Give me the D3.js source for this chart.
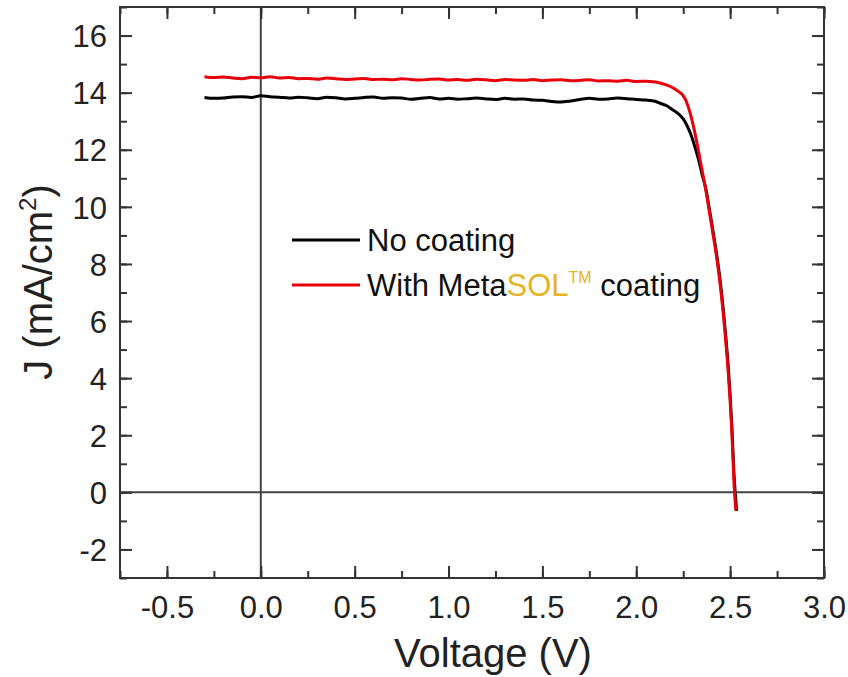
<!DOCTYPE html>
<html>
<head>
<meta charset="utf-8">
<script src="https://cdn.jsdelivr.net/npm/d3@7.9.0/dist/d3.min.js"></script>
<style>
  body { margin: 0; background: #fff; }
  svg { display: block; font-family: Arial, "Liberation Sans", sans-serif; }
</style>
</head>
<body>
<svg id="chart" width="848" height="677"></svg>
<script>
// voltage samples of the flat part (V)
const flatV = [-0.30, -0.25, -0.20, -0.15, -0.10, -0.05, 0.00, 0.05, 0.10, 0.15,
  0.20, 0.25, 0.30, 0.35, 0.40, 0.45, 0.50, 0.55, 0.60, 0.65,
  0.70, 0.75, 0.80, 0.85, 0.90, 0.95, 1.00, 1.05, 1.10, 1.15,
  1.20, 1.25, 1.30, 1.35, 1.40, 1.45, 1.50, 1.55, 1.60, 1.65,
  1.70, 1.75, 1.80, 1.85, 1.90, 1.95, 2.00, 2.05, 2.10];

// No coating (mA/cm2)
const blackFlatJ = [13.83, 13.80, 13.81, 13.85, 13.86, 13.83, 13.89, 13.86, 13.84, 13.81,
  13.84, 13.82, 13.79, 13.84, 13.82, 13.78, 13.80, 13.83, 13.85, 13.80,
  13.82, 13.81, 13.77, 13.80, 13.83, 13.78, 13.80, 13.77, 13.79, 13.81,
  13.78, 13.76, 13.80, 13.77, 13.78, 13.74, 13.73, 13.69, 13.67, 13.71,
  13.76, 13.80, 13.77, 13.78, 13.81, 13.79, 13.76, 13.74, 13.70];
const blackKneeV = [2.13, 2.16, 2.19, 2.22, 2.25, 2.27, 2.29, 2.31, 2.33, 2.35,
  2.37, 2.39, 2.41, 2.43, 2.45, 2.47, 2.49, 2.50, 2.51, 2.52, 2.535];
const blackKneeJ = [13.62, 13.55, 13.42, 13.28, 13.08, 12.85, 12.55, 12.15, 11.70, 11.15,
  10.65, 9.90, 9.10, 8.25, 7.25, 5.95, 4.40, 3.40, 2.20, 0.70, -0.65];

// With MetaSOL coating (mA/cm2)
const redFlatJ = [14.56, 14.53, 14.55, 14.51, 14.49, 14.54, 14.52, 14.56, 14.51, 14.53,
  14.49, 14.50, 14.47, 14.51, 14.49, 14.46, 14.48, 14.50, 14.46, 14.47,
  14.45, 14.49, 14.46, 14.44, 14.47, 14.48, 14.44, 14.46, 14.43, 14.47,
  14.45, 14.42, 14.46, 14.44, 14.43, 14.46, 14.42, 14.44, 14.45, 14.42,
  14.43, 14.45, 14.41, 14.42, 14.40, 14.43, 14.39, 14.40, 14.37];
const redKneeV = [2.13, 2.16, 2.19, 2.21, 2.235, 2.25, 2.26, 2.27, 2.28, 2.29, 2.31, 2.33, 2.35,
  2.37, 2.39, 2.41, 2.43, 2.45, 2.47, 2.49, 2.50, 2.51, 2.52, 2.53];
const redKneeJ = [14.33, 14.27, 14.19, 14.11, 13.99, 13.89, 13.78, 13.63, 13.44, 13.21, 12.66, 12.00, 11.30,
  10.60, 9.80, 9.00, 8.15, 7.10, 5.80, 4.20, 3.20, 2.00, 0.40, -0.63];

const xTicks = [-0.5, 0.0, 0.5, 1.0, 1.5, 2.0, 2.5, 3.0];
const yTicks = [-2, 0, 2, 4, 6, 8, 10, 12, 14, 16];

const svg = d3.select('#chart');
const pLeft = 120, pRight = 824, pTop = 7, pBottom = 578;

const x = d3.scaleLinear().domain([-0.75, 3.0]).range([pLeft, pRight]);
const y = d3.scaleLinear().domain([-3, 17]).range([pBottom, pTop]);

function series(v1, j1, v2, j2) {
  return v1.map((v, i) => [v, j1[i]]).concat(v2.map((v, i) => [v, j2[i]]));
}
const blackData = series(flatV, blackFlatJ, blackKneeV, blackKneeJ);
const redData = series(flatV, redFlatJ, redKneeV, redKneeJ);

// zero lines
svg.append('line')
  .attr('x1', x(0)).attr('x2', x(0)).attr('y1', pTop).attr('y2', pBottom)
  .attr('stroke', '#444').attr('stroke-width', 2);
svg.append('line')
  .attr('x1', pLeft).attr('x2', pRight).attr('y1', y(0)).attr('y2', y(0))
  .attr('stroke', '#444').attr('stroke-width', 2);

// axes, ticks inside on all sides
const minorX = d3.range(-0.75, 3.001, 0.25);
const minorY = d3.range(-3, 17.001, 1);
function styleAxis(g) {
  g.select('.domain').remove();
  g.selectAll('line').attr('stroke', '#333').attr('stroke-width', 2);
}
const fmtX = d => (d < 0 ? '-' : '') + Math.abs(d).toFixed(1);
const fmtY = d => d < 0 ? '-' + Math.abs(d) : String(d);

svg.append('g').attr('transform', `translate(0,${pBottom})`)
  .call(d3.axisBottom(x).tickValues(minorX).tickSize(-7).tickFormat(''))
  .call(styleAxis);
svg.append('g').attr('transform', `translate(0,${pBottom})`)
  .call(d3.axisBottom(x).tickValues(xTicks).tickSize(-12).tickFormat(fmtX))
  .call(styleAxis)
  .selectAll('text').attr('font-size', 31).attr('fill', '#222').attr('y', 18);
svg.append('g').attr('transform', `translate(0,${pTop})`)
  .call(d3.axisTop(x).tickValues(minorX).tickSize(-7).tickFormat(''))
  .call(styleAxis);
svg.append('g').attr('transform', `translate(0,${pTop})`)
  .call(d3.axisTop(x).tickValues(xTicks).tickSize(-12).tickFormat(''))
  .call(styleAxis);

svg.append('g').attr('transform', `translate(${pLeft},0)`)
  .call(d3.axisLeft(y).tickValues(minorY).tickSize(-7).tickFormat(''))
  .call(styleAxis);
svg.append('g').attr('transform', `translate(${pLeft},0)`)
  .call(d3.axisLeft(y).tickValues(yTicks).tickSize(-12).tickFormat(fmtY))
  .call(styleAxis)
  .selectAll('text').attr('font-size', 31).attr('fill', '#222').attr('x', -13).attr('dy', '0.36em');
svg.append('g').attr('transform', `translate(${pRight},0)`)
  .call(d3.axisRight(y).tickValues(minorY).tickSize(-7).tickFormat(''))
  .call(styleAxis);
svg.append('g').attr('transform', `translate(${pRight},0)`)
  .call(d3.axisRight(y).tickValues(yTicks).tickSize(-12).tickFormat(''))
  .call(styleAxis);

// frame
svg.append('rect')
  .attr('x', pLeft).attr('y', pTop).attr('width', pRight - pLeft).attr('height', pBottom - pTop)
  .attr('fill', 'none').attr('stroke', '#333').attr('stroke-width', 2);

// curves
const line = d3.line().x(d => x(d[0])).y(d => y(d[1])).curve(d3.curveMonotoneX);
svg.append('path').datum(blackData).attr('d', line)
  .attr('fill', 'none').attr('stroke', '#000').attr('stroke-width', 3).attr('stroke-linejoin', 'round');
svg.append('path').datum(redData).attr('d', line)
  .attr('fill', 'none').attr('stroke', '#e8000b').attr('stroke-width', 3).attr('stroke-linejoin', 'round');

// legend
svg.append('line').attr('x1', 292).attr('x2', 360).attr('y1', 240).attr('y2', 240)
  .attr('stroke', '#000').attr('stroke-width', 3);
svg.append('text').attr('x', 367).attr('y', 251).attr('font-size', 31).attr('fill', '#111')
  .text('No coating');
svg.append('line').attr('x1', 292).attr('x2', 360).attr('y1', 285).attr('y2', 285)
  .attr('stroke', '#e8000b').attr('stroke-width', 3);
const t2 = svg.append('text').attr('x', 367).attr('y', 296).attr('font-size', 31).attr('fill', '#111');
t2.append('tspan').text('With Meta');
t2.append('tspan').attr('fill', '#e6b422').text('SOL');
t2.append('tspan').attr('fill', '#e6b422').attr('font-size', 16).attr('dy', -13).text('TM');
t2.append('tspan').attr('dy', 13).text(' coating');

// axis titles
svg.append('text').attr('x', 493).attr('y', 667).attr('text-anchor', 'middle')
  .attr('font-size', 40).attr('fill', '#222').text('Voltage (V)');
const yt = svg.append('text').attr('transform', 'translate(52,282) rotate(-90)')
  .attr('text-anchor', 'middle').attr('font-size', 40).attr('fill', '#222');
yt.append('tspan').text('J (mA/cm');
yt.append('tspan').attr('font-size', 24).attr('dy', -16).text('2');
yt.append('tspan').attr('dy', 16).text(')');
</script>
</body>
</html>
